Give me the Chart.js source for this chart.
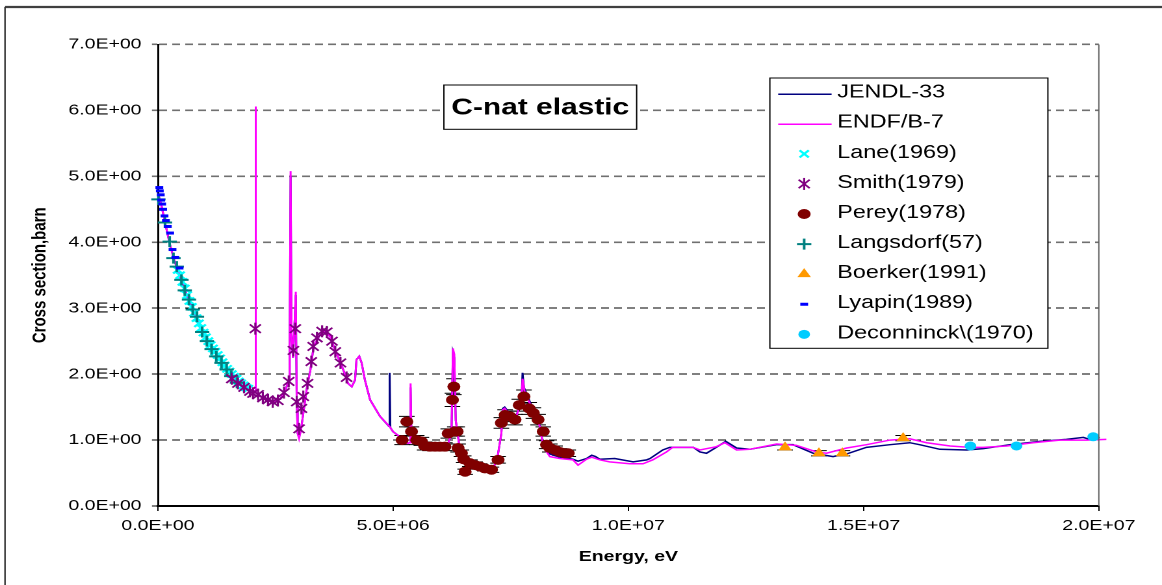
<!DOCTYPE html>
<html>
<head>
<meta charset="utf-8">
<title>C-nat elastic</title>
<script src="https://cdn.jsdelivr.net/npm/chart.js@4/dist/chart.umd.min.js"></script>
<style>
  html, body { margin: 0; padding: 0; background: #fff; overflow: hidden; }
  /* the plot is laid out on a 894px-wide canvas and widened to 1162px */
  #wrap { width: 894px; height: 585px; transform: scaleX(1.29978); transform-origin: 0 0; }
  canvas { display: block; }
</style>
</head>
<body>
<div id="wrap"><canvas id="c" width="894" height="585"></canvas></div>
<script>
const MeV = 1e6;

// Energies in MeV, cross sections in barn
const jendlE = [0.01,0.05,0.08,0.15,0.25,0.35,0.47,0.58,0.68,0.78,0.89,1.00,1.12,1.25,1.40,1.60,1.75,1.95,2.05,2.070,2.076,2.082,2.15,2.30,2.45,2.60,2.70,2.78,2.80,2.82,2.84,2.87,2.90,2.93,2.95,2.97,3.00,3.04,3.10,3.17,3.24,3.31,3.42,3.52,3.66,3.76,3.87,3.97,4.04,4.12,4.19,4.22,4.28,4.33,4.40,4.51,4.72,4.91,4.925,4.94,4.995,5.14,5.21,5.31,5.35,5.37,5.39,5.45,5.57,5.92,6.16,6.24,6.27,6.30,6.33,6.41,6.52,6.63,6.84,7.12,7.22,7.30,7.33,7.37,7.48,7.62,7.73,7.75,7.78,7.97,8.12,8.19,8.33,8.54,8.82,8.93,9.11,9.22,9.30,9.39,9.71,10.10,10.39,10.46,10.73,10.88,11.38,11.52,11.66,11.87,12.07,12.30,12.58,13.15,13.50,13.93,14.35,14.64,15.06,15.56,15.98,16.19,16.62,17.19,17.54,18.11,18.75,19.31,19.67,19.81,20.02];
const jendlS = [4.72,4.62,4.54,4.30,3.98,3.72,3.48,3.27,3.08,2.90,2.72,2.58,2.44,2.31,2.13,1.96,1.86,1.76,1.73,1.75,5.95,1.72,1.68,1.61,1.58,1.62,1.74,1.90,2.40,5.00,2.60,2.25,2.70,3.20,1.60,1.10,1.05,1.15,1.46,1.81,2.06,2.42,2.57,2.65,2.57,2.37,2.19,2.01,1.86,1.81,1.91,2.22,2.27,2.17,1.91,1.61,1.36,1.21,2.02,1.19,1.13,1.05,1.00,0.95,0.96,1.80,1.00,1.00,1.00,0.90,0.93,1.10,2.33,2.25,1.30,0.90,0.70,0.65,0.60,0.55,0.75,1.10,1.48,1.50,1.40,1.37,1.62,2.02,1.80,1.47,1.21,0.92,0.79,0.74,0.71,0.68,0.72,0.77,0.75,0.71,0.72,0.67,0.70,0.72,0.85,0.89,0.89,0.82,0.80,0.89,0.98,0.88,0.86,0.93,0.93,0.80,0.75,0.79,0.89,0.93,0.96,0.93,0.86,0.85,0.87,0.93,0.98,1.01,1.04,1.01,1.04];

const endfE = [0.01,0.05,0.08,0.15,0.25,0.35,0.47,0.58,0.68,0.78,0.89,1.00,1.12,1.25,1.40,1.60,1.75,1.95,2.05,2.070,2.076,2.082,2.15,2.30,2.45,2.60,2.70,2.78,2.80,2.82,2.84,2.87,2.90,2.93,2.95,2.97,3.00,3.04,3.10,3.17,3.24,3.31,3.42,3.52,3.66,3.76,3.87,3.97,4.04,4.12,4.19,4.22,4.28,4.33,4.40,4.51,4.72,4.93,4.995,5.14,5.21,5.31,5.35,5.37,5.39,5.45,5.57,5.92,6.16,6.24,6.27,6.30,6.33,6.41,6.52,6.63,6.84,7.12,7.22,7.30,7.33,7.37,7.48,7.62,7.73,7.75,7.80,7.97,8.12,8.19,8.33,8.54,8.82,8.93,9.11,9.22,9.39,9.60,10.03,10.31,10.52,10.81,10.94,11.37,11.52,11.87,12.05,12.30,12.58,13.15,13.57,14.00,14.21,14.64,15.06,15.56,15.98,16.34,16.84,17.26,17.54,18.04,18.60,19.17,19.74,20.16];
const endfS = [4.72,4.62,4.54,4.30,3.98,3.72,3.48,3.27,3.08,2.90,2.72,2.58,2.44,2.31,2.13,1.96,1.86,1.76,1.73,1.75,6.06,1.72,1.68,1.61,1.58,1.62,1.74,1.90,2.40,5.08,2.60,2.25,2.70,3.25,1.60,1.10,1.02,1.15,1.46,1.81,2.06,2.42,2.57,2.65,2.57,2.37,2.19,2.01,1.86,1.81,1.91,2.22,2.27,2.17,1.91,1.61,1.36,1.20,1.13,1.05,1.00,0.95,0.96,1.86,1.00,1.00,1.00,0.90,0.93,1.10,2.39,2.30,1.30,0.90,0.70,0.65,0.60,0.55,0.75,1.10,1.46,1.48,1.38,1.36,1.61,1.93,1.71,1.46,1.20,0.90,0.75,0.72,0.70,0.62,0.71,0.74,0.70,0.67,0.64,0.64,0.70,0.82,0.89,0.89,0.85,0.90,0.96,0.85,0.86,0.94,0.92,0.82,0.80,0.88,0.93,1.00,1.02,0.96,0.91,0.89,0.89,0.91,0.96,1.00,1.00,1.01];

const laneE = [0.42,0.47,0.52,0.57,0.62,0.67,0.72,0.77,0.82,0.87,0.92,0.97,1.02,1.07,1.12,1.17,1.22,1.27,1.32,1.37,1.42,1.47,1.52,1.57,1.62,1.67,1.72,1.77,1.82,1.87,1.92];
const laneS = [3.58,3.50,3.40,3.30,3.20,3.11,3.02,2.93,2.85,2.77,2.70,2.63,2.56,2.50,2.44,2.39,2.34,2.29,2.24,2.18,2.13,2.08,2.04,2.00,1.96,1.93,1.89,1.86,1.83,1.80,1.78];

const smithE = [1.57,1.70,1.83,1.955,2.02,2.07,2.13,2.23,2.34,2.44,2.55,2.68,2.78,2.88,2.92,2.95,3.00,3.05,3.09,3.18,3.26,3.30,3.38,3.49,3.59,3.70,3.77,3.88,4.01];
const smithS = [1.93,1.86,1.80,1.74,1.71,2.69,1.69,1.64,1.61,1.58,1.60,1.72,1.89,2.36,2.69,1.58,1.17,1.48,1.66,1.86,2.19,2.42,2.55,2.65,2.64,2.50,2.34,2.17,1.95];

const pereyE = [5.19,5.29,5.39,5.50,5.60,5.67,5.78,5.89,5.99,6.10,6.17,6.26,6.29,6.31,6.36,6.38,6.45,6.50,6.53,6.63,6.74,6.84,6.95,7.09,7.23,7.30,7.38,7.48,7.59,7.68,7.78,7.89,7.98,8.08,8.19,8.26,8.33,8.44,8.54,8.65,8.72];
const pereyS = [1.00,1.28,1.13,1.00,0.98,0.91,0.90,0.90,0.90,0.90,1.10,1.61,1.81,1.13,1.13,0.88,0.80,0.71,0.52,0.65,0.62,0.60,0.57,0.55,0.70,1.26,1.38,1.36,1.31,1.53,1.66,1.48,1.41,1.31,1.13,0.93,0.88,0.85,0.82,0.80,0.80];
const pereyErr = [0.07,0.08,0.07,0.07,0.06,0.06,0.06,0.06,0.06,0.06,0.07,0.10,0.12,0.07,0.07,0.06,0.05,0.05,0.04,0.05,0.05,0.04,0.04,0.04,0.05,0.08,0.08,0.08,0.08,0.09,0.10,0.09,0.08,0.08,0.07,0.06,0.06,0.06,0.05,0.05,0.05];

const langsE = [0.01,0.15,0.25,0.33,0.40,0.50,0.57,0.66,0.74,0.83,0.94,1.04,1.14,1.24,1.35,1.46,1.56,1.68];
const langsS = [4.65,4.30,4.01,3.76,3.63,3.43,3.27,3.13,2.98,2.87,2.64,2.50,2.38,2.27,2.17,2.07,1.97,1.87];

const boerkerE = [13.33,14.05,14.55,15.84];
const boerkerS = [0.89,0.80,0.80,1.03];
const boerkerErr = [0.04,0.04,0.04,0.04];

const lyapinE = [0.03,0.04,0.06,0.07,0.09,0.11,0.14,0.17,0.21,0.26,0.31,0.37,0.46];
const lyapinS = [4.83,4.78,4.72,4.64,4.58,4.50,4.40,4.33,4.24,4.14,3.89,3.77,3.61];

const deconE = [17.27,18.25,19.88];
const deconS = [0.91,0.91,1.05];

const seriesNames = ['JENDL-33','ENDF/B-7','Lane(1969)','Smith(1979)','Perey(1978)','Langsdorf(57)','Boerker(1991)','Lyapin(1989)','Deconninck\\(1970)'];
const yTicks = [0,1,2,3,4,5,6,7];
const xTicks = [0, 5e6, 1e7, 1.5e7, 2e7];

const pts = (E, S) => E.map((e, i) => ({ x: e * MeV, y: S[i] }));

function sci(v) {
  const m = v.toExponential(1).toUpperCase().match(/^(.*)E([+-])(\d+)$/);
  return m[1] + 'E' + m[2] + m[3].padStart(2, '0');
}

const FONT = "'Liberation Sans', Arial, sans-serif";
Chart.defaults.font.family = FONT;
Chart.defaults.color = '#000';

const curve = (label, E, S, color, order) => ({
  label, data: pts(E, S), showLine: true, borderColor: color, backgroundColor: color,
  borderWidth: 1.5, pointRadius: 0, tension: 0, order, clip: 8, legendKind: 'line'
});
const marks = (label, E, S, style, color, radius, bw, order, extra) => Object.assign({
  label, data: pts(E, S), showLine: false, pointStyle: style, pointRadius: radius,
  pointBackgroundColor: color, pointBorderColor: color, pointBorderWidth: bw,
  pointRotation: 0, order, clip: false, legendKind: 'point'
}, extra || {});

const datasets = [
  curve(seriesNames[0], jendlE, jendlS, '#000080', 8),
  curve(seriesNames[1], endfE, endfS, '#FF00FF', 7),
  marks(seriesNames[2], laneE, laneS, 'crossRot', '#00FFFF', 5, 2, 4),
  marks(seriesNames[3], smithE, smithS, 'crossRot', '#800080', 6, 1.6, 2),
  marks(seriesNames[4], pereyE, pereyS, 'circle', '#800000', 5, 0, 2, { errorBars: pereyErr }),
  marks(seriesNames[5], langsE, langsS, 'cross', '#008080', 5.5, 2, 3),
  marks(seriesNames[6], boerkerE, boerkerS, 'triangle', '#FF9900', 6, 0, 1, { errorBars: boerkerErr }),
  marks(seriesNames[7], lyapinE, lyapinS, 'line', '#0000FF', 3, 3, 1),
  marks(seriesNames[8], deconE, deconS, 'circle', '#00CCFF', 4.5, 0, 1),
  // vertical stroke completing the Smith asterisk
  marks('', smithE, smithS, 'line', '#800080', 6, 1.6, 2, { pointRotation: 90, legendKind: 'none' })
];

const decor = {
  id: 'decor',
  beforeDatasetsDraw(chart) {
    const { ctx, scales: { x, y } } = chart;
    ctx.save();
    ctx.strokeStyle = '#000';
    ctx.lineWidth = 1;
    chart.data.datasets.forEach(ds => {
      if (!ds.errorBars) return;
      ds.data.forEach((p, i) => {
        const e = ds.errorBars[i];
        const px = x.getPixelForValue(p.x);
        const y1 = y.getPixelForValue(p.y - e), y2 = y.getPixelForValue(p.y + e);
        ctx.beginPath();
        ctx.moveTo(px, y1); ctx.lineTo(px, y2);
        ctx.moveTo(px - 6, y1); ctx.lineTo(px + 6, y1);
        ctx.moveTo(px - 6, y2); ctx.lineTo(px + 6, y2);
        ctx.stroke();
      });
    });
    ctx.restore();
  },
  afterDraw(chart) {
    const { ctx, chartArea: a } = chart;
    ctx.save();
    // outer frame
    ctx.strokeStyle = '#404040';
    ctx.lineWidth = 2.2;
    ctx.beginPath(); ctx.moveTo(3.85, 7); ctx.lineTo(894, 7); ctx.stroke();
    ctx.lineWidth = 1.2;
    ctx.strokeStyle = '#333';
    ctx.beginPath(); ctx.moveTo(3.85, 7); ctx.lineTo(3.85, 585); ctx.stroke();
    // right edge of the plot area
    ctx.strokeStyle = '#606060';
    ctx.lineWidth = 1;
    ctx.beginPath(); ctx.moveTo(a.right, a.top); ctx.lineTo(a.right, a.bottom); ctx.stroke();

    // title box
    const tb = { x: 341.5, y: 85, w: 148.3, h: 44.3 };
    ctx.fillStyle = '#fff';
    ctx.fillRect(tb.x, tb.y, tb.w, tb.h);
    ctx.strokeStyle = '#000';
    ctx.lineWidth = 1;
    ctx.strokeRect(tb.x, tb.y, tb.w, tb.h);
    ctx.fillStyle = '#000';
    ctx.font = "bold 23px " + FONT;
    ctx.textAlign = 'center';
    ctx.textBaseline = 'middle';
    ctx.fillText('C-nat elastic', tb.x + tb.w / 2, tb.y + tb.h / 2 + 1);

    // legend
    const lg = { x: 592.3, y: 78, w: 213.9, h: 270.3 };
    ctx.fillStyle = '#fff';
    ctx.fillRect(lg.x, lg.y, lg.w, lg.h);
    ctx.strokeStyle = '#000';
    ctx.strokeRect(lg.x, lg.y, lg.w, lg.h);
    ctx.font = "18px " + FONT;
    ctx.textAlign = 'left';
    ctx.textBaseline = 'middle';
    let row = 0;
    chart.data.datasets.forEach(ds => {
      if (ds.legendKind === 'none') return;
      const cy = 92.7 + row * 30.08;
      if (ds.legendKind === 'line') {
        ctx.strokeStyle = ds.borderColor;
        ctx.lineWidth = 1.5;
        ctx.beginPath(); ctx.moveTo(598.7, cy + 1.5); ctx.lineTo(639.8, cy + 1.5); ctx.stroke();
      } else {
        ctx.fillStyle = ds.pointBackgroundColor;
        ctx.strokeStyle = ds.pointBorderColor;
        ctx.lineWidth = ds.pointBorderWidth;
        const opt = { pointStyle: ds.pointStyle, rotation: 0, radius: ds.pointRadius, borderWidth: ds.pointBorderWidth };
        Chart.helpers.drawPoint(ctx, opt, 618.7, cy + 1);
        if (ds.label === seriesNames[3]) {
          Chart.helpers.drawPoint(ctx, Object.assign({}, opt, { pointStyle: 'line', rotation: 90 }), 618.7, cy + 1);
        }
      }
      ctx.fillStyle = '#000';
      ctx.fillText(ds.label, 644.1, cy);
      row++;
    });
    ctx.restore();
  }
};

new Chart(document.getElementById('c'), {
  type: 'scatter',
  data: { datasets },
  options: {
    responsive: false,
    animation: false,
    devicePixelRatio: 2,
    events: [],
    layout: { padding: { top: 44.5, right: 48.6, left: 0, bottom: 0 } },
    plugins: { legend: { display: false }, tooltip: { enabled: false } },
    scales: {
      x: {
        type: 'linear', min: 0, max: 2e7,
        afterFit: s => { s.height = 79; },
        afterBuildTicks: s => { s.ticks = xTicks.map(v => ({ value: v })); },
        ticks: { callback: v => sci(v), font: { size: 15 }, color: '#000', padding: 6, maxRotation: 0 },
        grid: { drawOnChartArea: false, drawTicks: true, tickLength: 5, color: '#000', tickWidth: 1 },
        border: { display: true, color: '#000', width: 2 },
        title: { display: true, text: 'Energy, eV', font: { size: 15, weight: 'bold' }, padding: { top: 0, bottom: 19 } }
      },
      y: {
        type: 'linear', min: 0, max: 7,
        afterFit: s => { s.width = 121.5; },
        afterBuildTicks: s => { s.ticks = yTicks.map(v => ({ value: v })); },
        ticks: { callback: v => sci(v), font: { size: 15 }, color: '#000', padding: 8 },
        grid: {
          drawOnChartArea: true, drawTicks: true, tickLength: 4.6,
          color: c => (c.tick && c.tick.value >= 4 ? '#707070' : '#000'),
          lineWidth: c => (c.tick && c.tick.value >= 4 ? 1.6 : 1),
          tickBorderDash: []
        },
        border: { display: true, color: '#000', width: 1.5, dash: [6, 4] },
        title: { display: true, text: 'Cross section,barn', font: { size: 15, weight: 'bold' }, padding: { top: 21.8, bottom: 0 } }
      }
    }
  },
  plugins: [decor]
});
</script>
</body>
</html>
